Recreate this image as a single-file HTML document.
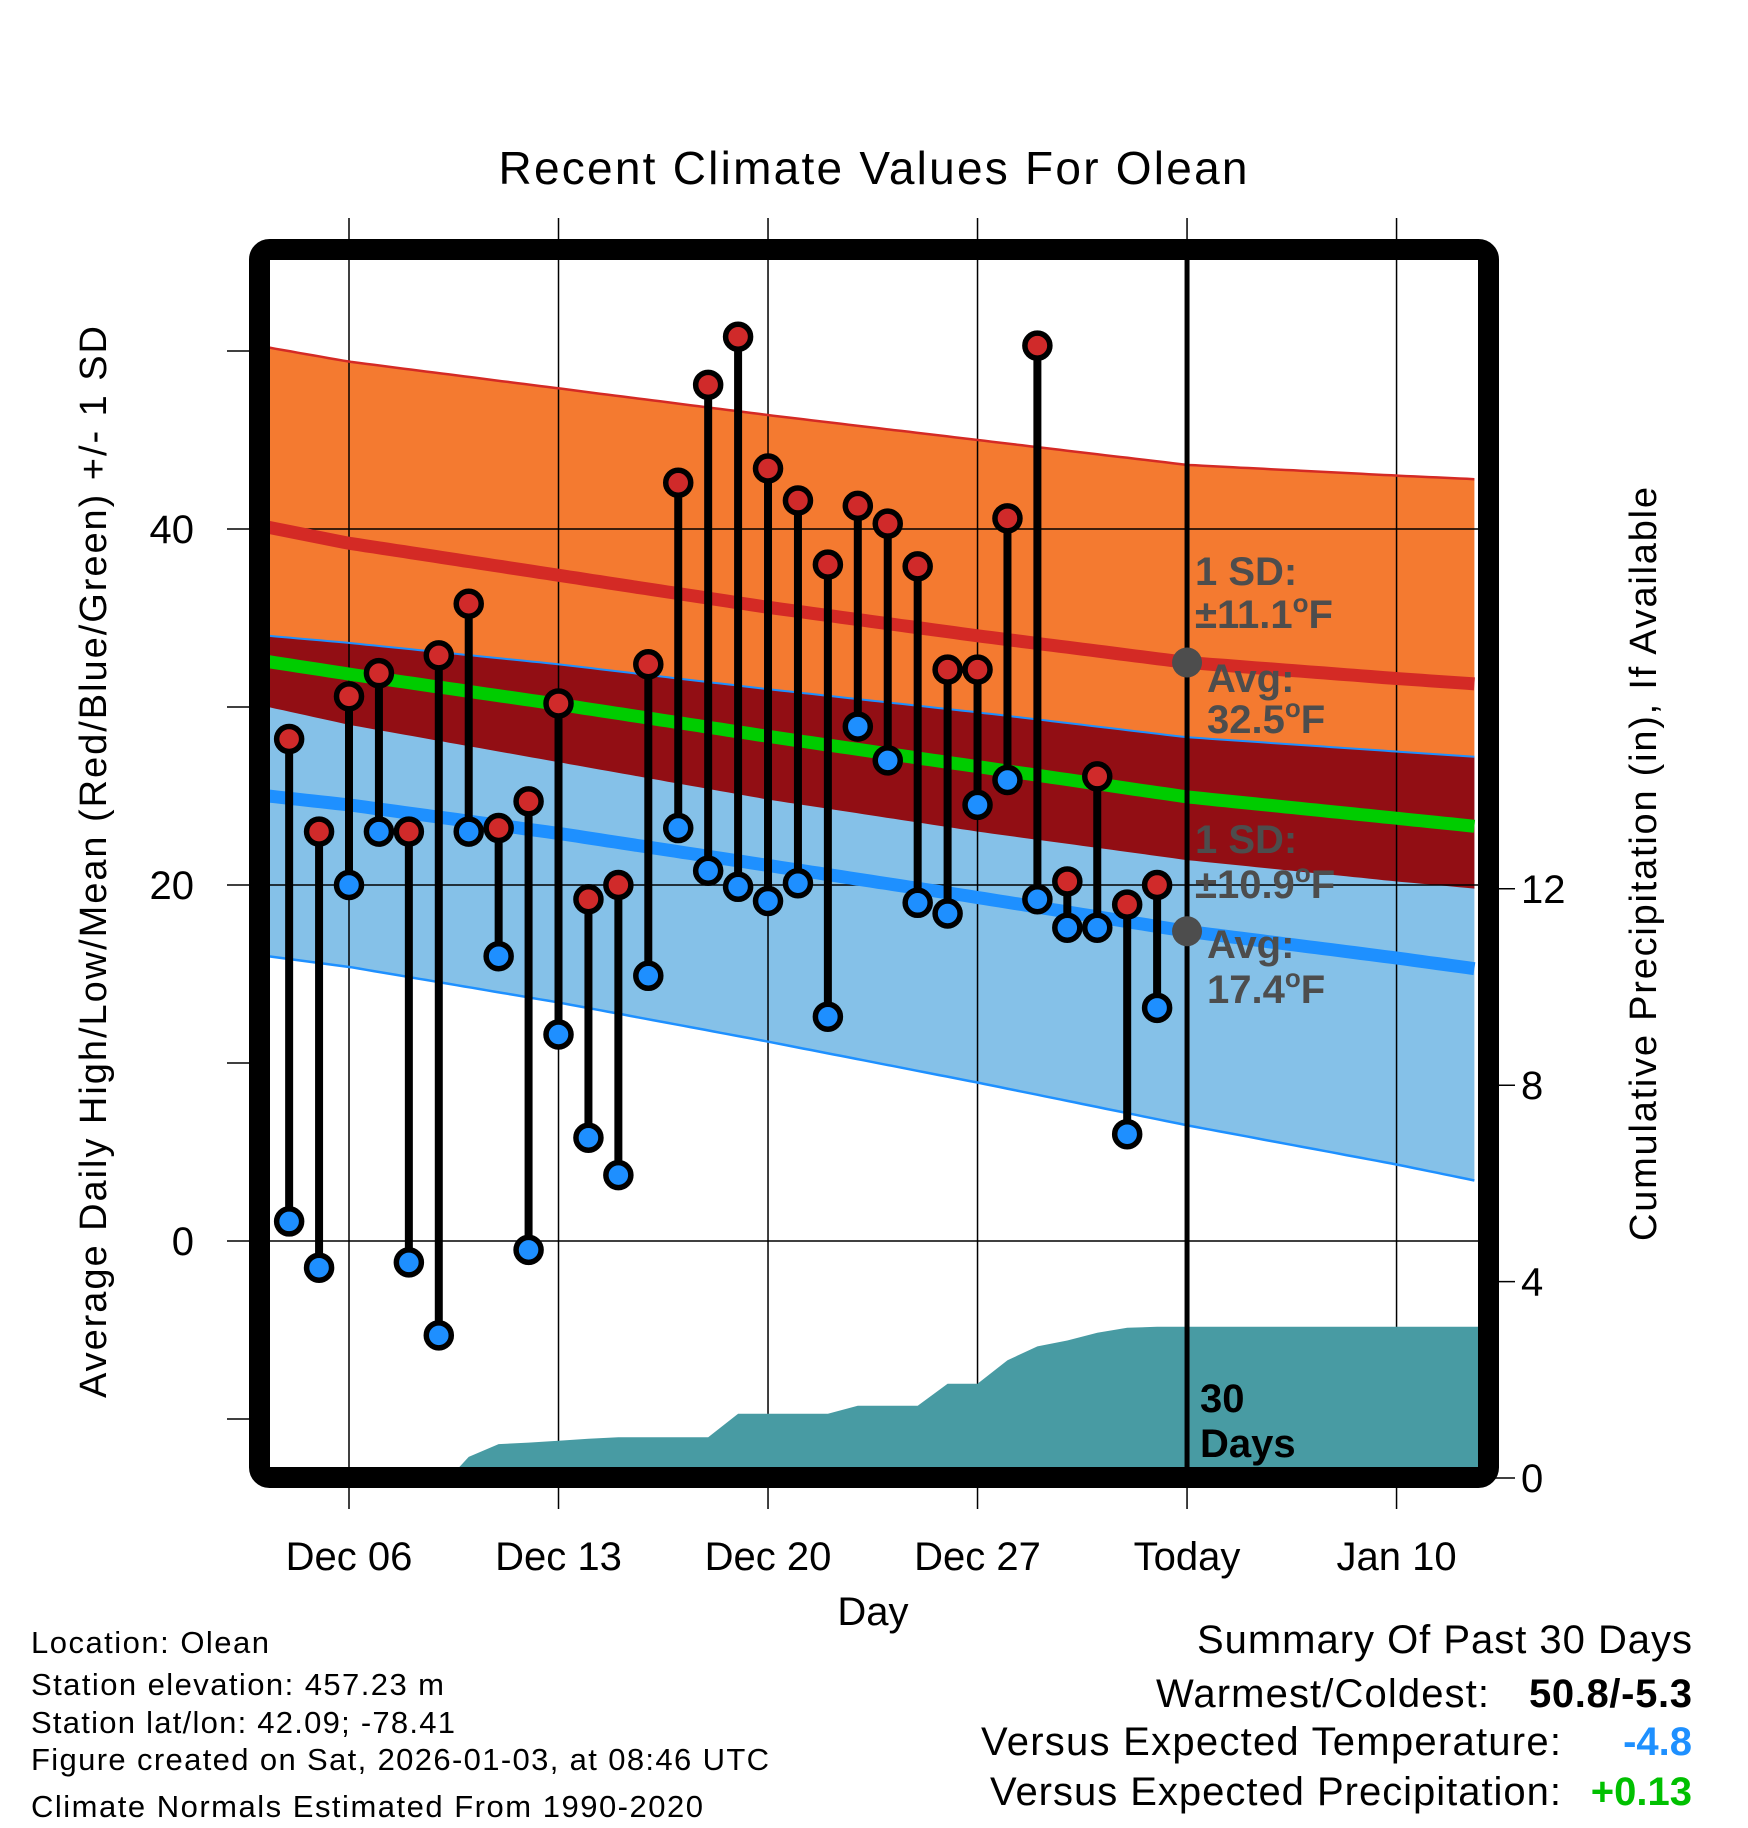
<!DOCTYPE html>
<html><head><meta charset="utf-8"><style>
html,body{margin:0;padding:0;background:#fff;}
svg{display:block;font-family:"Liberation Sans",sans-serif;}
</style></head><body>
<svg id="chart" width="1748" height="1828" viewBox="0 0 1748 1828" xmlns="http://www.w3.org/2000/svg">
<rect x="0" y="0" width="1748" height="1828" fill="#fff"/>
<g id="bands"></g>
<g id="grid"></g>
<g id="precip"></g>
<g id="lines"></g>
<g id="marks"></g>
<g id="annot"></g>
<g id="frame"></g>
<g id="labels"></g>
</svg>
<script>
// ---- data ----
const highs = [28.2,23.0,30.6,31.9,23.0,32.9,35.8,23.2,24.7,30.2,19.2,20.0,32.4,42.6,48.1,50.8,43.4,41.6,38.0,41.3,40.3,37.9,32.1,32.1,40.6,50.3,20.2,26.1,18.9,20.0];
const lows  = [1.1,-1.5,20.0,23.0,-1.2,-5.3,23.0,16.0,-0.5,11.6,5.8,3.7,14.9,23.2,20.8,19.9,19.1,20.1,12.6,28.9,27.0,19.0,18.4,24.5,25.9,19.2,17.6,17.6,6.0,13.1];
const precipCum = [0,0,0,0,0,0,0.43,0.69,0.72,0.76,0.80,0.83,0.83,0.83,0.83,1.31,1.31,1.31,1.31,1.47,1.47,1.47,1.92,1.92,2.40,2.68,2.80,2.96,3.06,3.08];
const firstDay = 4; // Dec 4
const normDays = [3.3,6,13,20,27,34,41,43.6];
const highMean = [40.1,39.2,37.4,35.6,34.0,32.5,31.6,31.3];
const highSD   = [10.1,10.2,10.5,10.8,11.0,11.1,11.4,11.5];
const lowMean  = [25.0,24.5,22.9,21.1,19.3,17.4,15.9,15.3];
const lowSD    = [9.0,9.1,9.5,9.9,10.4,10.9,11.6,11.9];
const xTickDays = [6,13,20,27,34,41];
const xTickLabels = ["Dec 06","Dec 13","Dec 20","Dec 27","Today","Jan 10"];
const yTicks = [0,20,40];
const yMinor = [-10,10,30,50];
const pTicks = [0,4,8,12];

// ---- axes ----
const PL=270, PR=1478, PT=260, PB=1468;
const X = d => 349 + (d-6)*29.93;
const Y = v => 1241 - v*17.8;
const P = p => 1478 - p*49.1;
const NS="http://www.w3.org/2000/svg";
function mk(parent,tag,attrs){const e=document.createElementNS(NS,tag);for(const k in attrs)e.setAttribute(k,attrs[k]);document.getElementById(parent).appendChild(e);return e;}

function norm(d){
  let i=0; while(i<normDays.length-2 && d>normDays[i+1]) i++;
  const t=(d-normDays[i])/(normDays[i+1]-normDays[i]);
  const L=(a)=>a[i]+(a[i+1]-a[i])*t;
  return {d, hm:L(highMean), hs:L(highSD), lm:L(lowMean), ls:L(lowSD)};
}
const dStart=normDays[0], dEnd=normDays[normDays.length-1];
const dense=[];
for(let k=0;k<=160;k++){ dense.push(norm(dStart+(dEnd-dStart)*k/160)); }
const pts=(f)=>dense.map(o=>X(o.d).toFixed(1)+','+Y(f(o)).toFixed(1));
const poly=(top,bot)=>pts(top).concat(pts(bot).reverse()).join(' ');

let e;
e=mk('bands','polygon',{points:poly(o=>o.hm+o.hs,o=>o.hm-o.hs),fill:'#F47A30'});


e=mk('bands','polygon',{points:poly(o=>o.lm+o.ls,o=>o.lm-o.ls),fill:'#85C1E8'});


e=mk('bands','polygon',{points:poly(o=>Math.max(o.lm+o.ls,o.hm-o.hs),o=>o.hm-o.hs),fill:'#920E14'});



// grid
xTickDays.forEach((d,i)=>{
  const g=mk('grid','line',{x1:X(d),x2:X(d),y1:218,y2:1509,stroke:'#000','stroke-width':1.5});
  
  
});
yTicks.forEach(v=>{
  const g=mk('grid','line',{x1:227,x2:PR,y1:Y(v),y2:Y(v),stroke:'#000','stroke-width':1.5});
  
  
});
yMinor.forEach(v=>{
  const g=mk('grid','line',{x1:227,x2:255,y1:Y(v),y2:Y(v),stroke:'#000','stroke-width':1.5});
  
  
});
pTicks.forEach(p=>{
  const g=mk('grid','line',{x1:1490,x2:1515,y1:P(p),y2:P(p),stroke:'#000','stroke-width':1.5});
  
  
});

// precip area
let firstIdx=precipCum.findIndex(v=>v>0);
let pp=[[X(firstDay+firstIdx-1+0.35),P(0)]];
for(let i=firstIdx;i<precipCum.length;i++){ pp.push([X(firstDay+i),P(precipCum[i])]); }
pp.push([PR,P(precipCum[precipCum.length-1])]);
pp.push([PR,P(0)]);
e=mk('precip','polygon',{points:pp.map(a=>a[0].toFixed(1)+','+a[1].toFixed(1)).join(' '),fill:'#489BA3'});



// normal lines
const pl=(f)=>pts(f).join(' ');
[[o=>o.hm+o.hs,'#D42A25',2.5,'high-plus-sd-line'],[o=>o.hm,'#D42A25',13,'high-mean-line'],
 [o=>o.lm+o.ls,'#1E90FF',2,'low-plus-sd-line'],[o=>(o.hm+o.lm)/2,'#00CC00',13,'mean-line'],
 [o=>o.lm,'#1E90FF',13,'low-mean-line'],[o=>o.lm-o.ls,'#1E90FF',2.5,'low-minus-sd-line']].forEach(a=>{
  const l=mk('lines','polyline',{points:pl(a[0]),fill:'none',stroke:a[1],'stroke-width':a[2]});
  
  
});

// today line
e=mk('lines','line',{x1:X(34),x2:X(34),y1:PT,y2:PB,stroke:'#000','stroke-width':5});



// daily marks
highs.forEach((h,i)=>{
  const x=X(firstDay+i), lo=lows[i];
  const s=mk('marks','line',{x1:x,x2:x,y1:Y(h),y2:Y(lo),stroke:'#000','stroke-width':8});
  
  
  const c1=mk('marks','circle',{cx:x,cy:Y(h),r:12.5,fill:'#D02A2A',stroke:'#000','stroke-width':5.5});
  
  
  const c2=mk('marks','circle',{cx:x,cy:Y(lo),r:12.5,fill:'#1E8FFF',stroke:'#000','stroke-width':5.5});
  
  
});

// annotations
const today=norm(34);
[[today.hm,'avg-high-dot'],[today.lm,'avg-low-dot']].forEach(a=>{
  const c=mk('annot','circle',{cx:X(34),cy:Y(a[0]),r:15,fill:'#4d4d4d'});
  
  
});
function txt(g,x,y,str,attrs,name){const t=mk(g,'text',Object.assign({x:x,y:y},attrs));t.textContent=str;return t;}
function deg(g,x,y,num,attrs,name){const t=mk(g,'text',Object.assign({x:x,y:y},attrs));
 t.appendChild(document.createTextNode(num));const s=document.createElementNS(NS,'tspan');s.setAttribute('dy','-16');s.setAttribute('font-size','26');s.textContent='o';t.appendChild(s);
 const f=document.createElementNS(NS,'tspan');f.setAttribute('dy','16');f.textContent='F';t.appendChild(f);return t;}
const A={fill:'#4d4d4d','font-size':40,'font-weight':'bold'};
txt('annot',1195,585,'1 SD:',A,'high-sd-label');
deg('annot',1195,628,'±11.1',A,'high-sd-value');
txt('annot',1207,692,'Avg:',A,'high-avg-label');
deg('annot',1207,733,'32.5',A,'high-avg-value');
txt('annot',1195,853,'1 SD:',A,'low-sd-label');
deg('annot',1195,898,'±10.9',A,'low-sd-value');
txt('annot',1207,958,'Avg:',A,'low-avg-label');
deg('annot',1207,1003,'17.4',A,'low-avg-value');
const B={fill:'#000','font-size':40,'font-weight':'bold'};
txt('annot',1200,1412,'30',B,'period-label');
txt('annot',1200,1457,'Days',B,'period-label-days');

// frame
e=mk('frame','rect',{x:259.5,y:249.5,width:1229,height:1228,rx:10,fill:'none',stroke:'#000','stroke-width':21});



// labels
const T={fill:'#000','font-size':40};
txt('labels',873,184,'Recent Climate Values For Olean',{fill:'#000','font-size':46,'text-anchor':'middle',textLength:749},'chart-title');
xTickDays.forEach((d,i)=>{ txt('labels',X(d),1570,xTickLabels[i],Object.assign({'text-anchor':'middle'},T),'x-tick-label'); });
txt('labels',873,1625,'Day',Object.assign({'text-anchor':'middle'},T),'x-axis-title');
yTicks.forEach(v=>{ txt('labels',194,Y(v)+14,String(v),Object.assign({'text-anchor':'end'},T),'y-tick-label'); });
pTicks.forEach(p=>{ txt('labels',1521,P(p)+14,String(p),T,'precip-tick-label'); });
txt('labels',0,0,'Average Daily High/Low/Mean (Red/Blue/Green) +/- 1 SD',{fill:'#000','font-size':38,'text-anchor':'middle',textLength:1072,transform:'translate(106,862) rotate(-90)'},'y-axis-title');
txt('labels',0,0,'Cumulative Precipitation (in), If Available',{fill:'#000','font-size':38,'text-anchor':'middle',textLength:754,transform:'translate(1656,864) rotate(-90)'},'precip-axis-title');
const S={fill:'#000','font-size':31};
txt('labels',31,1653,'Location: Olean',Object.assign({textLength:238},S),'location-text');
txt('labels',31,1695,'Station elevation: 457.23 m',Object.assign({textLength:413},S),'elevation-text');
txt('labels',31,1733,'Station lat/lon: 42.09; -78.41',Object.assign({textLength:424},S),'latlon-text');
txt('labels',31,1770,'Figure created on Sat, 2026-01-03, at 08:46 UTC',Object.assign({textLength:738},S),'created-text');
txt('labels',31,1817,'Climate Normals Estimated From 1990-2020',Object.assign({textLength:672},S),'normals-text');
const R={fill:'#000','font-size':40};
txt('labels',1197,1653,'Summary Of Past 30 Days',Object.assign({textLength:495},R),'summary-title');
txt('labels',1156,1707,'Warmest/Coldest:',Object.assign({textLength:333},R),'warmest-label');
txt('labels',1529,1707,'50.8/-5.3',Object.assign({textLength:163,'font-weight':'bold'},R),'warmest-value');
txt('labels',981,1755,'Versus Expected Temperature:',Object.assign({textLength:580},R),'temp-anomaly-label');
txt('labels',1692,1755,'-4.8',Object.assign({'text-anchor':'end','font-weight':'bold'},R,{fill:'#1E90FF'}),'temp-anomaly-value');
txt('labels',990,1805,'Versus Expected Precipitation:',Object.assign({textLength:571},R),'precip-anomaly-label');
txt('labels',1692,1805,'+0.13',Object.assign({'text-anchor':'end','font-weight':'bold'},R,{fill:'#00C000'}),'precip-anomaly-value');
</script>
</body></html>
